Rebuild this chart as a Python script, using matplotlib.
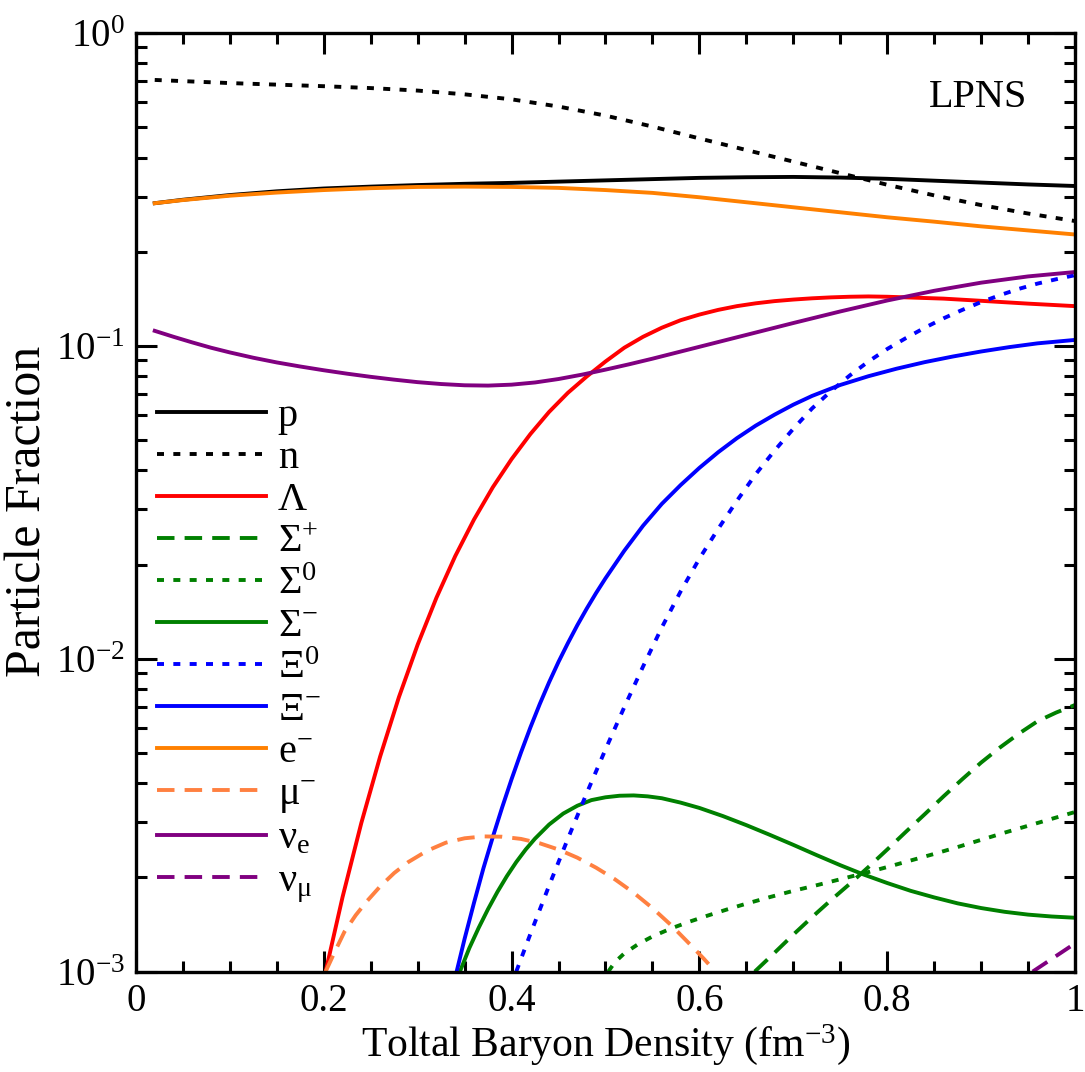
import numpy as np
import matplotlib
matplotlib.use("Agg")
import matplotlib.pyplot as plt
from matplotlib.ticker import MultipleLocator, FuncFormatter, LogLocator, NullFormatter

plt.rcParams['font.family'] = ['Liberation Serif', 'DejaVu Serif']
plt.rcParams['mathtext.fontset'] = 'custom'
plt.rcParams['mathtext.rm'] = 'Liberation Serif'
plt.rcParams['mathtext.it'] = 'Liberation Serif:italic'
plt.rcParams['mathtext.bf'] = 'Liberation Serif:bold'

# particle fractions vs total baryon density (fm^-3), stored as log10(fraction)
p_x = [0.02, 0.05, 0.10, 0.15, 0.20, 0.25, 0.30, 0.35, 0.40, 0.45, 0.50, 0.55, 0.60, 0.65, 0.70,
       0.75, 0.80, 0.85, 0.90, 0.95, 1.0]
p_lg = [-0.544, -0.533, -0.518, -0.506, -0.497, -0.491, -0.486, -0.482, -0.479, -0.475, -0.471, -0.467,
        -0.463, -0.461, -0.460, -0.462, -0.466, -0.472, -0.478, -0.484, -0.489]

n_x = [0.02, 0.06, 0.10, 0.15, 0.20, 0.25, 0.30, 0.35, 0.40, 0.45, 0.50, 0.55, 0.60, 0.65, 0.70,
       0.75, 0.80, 0.85, 0.90, 0.95, 1.0]
n_lg = [-0.150, -0.155, -0.160, -0.165, -0.170, -0.176, -0.184, -0.196, -0.212, -0.235, -0.264, -0.299,
        -0.337, -0.374, -0.411, -0.448, -0.485, -0.519, -0.550, -0.577, -0.601]

lam_x = [0.202, 0.22, 0.24, 0.26, 0.28, 0.30, 0.32, 0.34, 0.36, 0.38, 0.40, 0.42, 0.44, 0.46, 0.48,
         0.50, 0.52, 0.54, 0.56, 0.58, 0.60, 0.62, 0.64, 0.66, 0.68, 0.70, 0.72, 0.74, 0.76, 0.78,
         0.80, 0.82, 0.86, 0.90, 0.95, 1.0]
lam_lg = [-3.0, -2.762, -2.525, -2.313, -2.123, -1.955, -1.805, -1.672, -1.555, -1.452, -1.362, -1.282,
          -1.211, -1.15, -1.098, -1.05, -1.006, -0.971, -0.942, -0.918, -0.90, -0.885, -0.873, -0.864,
          -0.857, -0.852, -0.848, -0.845, -0.843, -0.842, -0.843, -0.845, -0.849, -0.856, -0.865, -0.873]

sp_x = [0.659, 0.68, 0.70, 0.72, 0.74, 0.76, 0.78, 0.80, 0.82, 0.84, 0.86, 0.88, 0.90, 0.92, 0.94,
        0.96, 0.98, 1.0]
sp_lg = [-3.0, -2.94, -2.882, -2.826, -2.772, -2.72, -2.666, -2.61, -2.553, -2.497, -2.44, -2.385,
         -2.332, -2.284, -2.24, -2.20, -2.172, -2.148]

s0_x = [0.503, 0.51, 0.52, 0.535, 0.55, 0.57, 0.59, 0.61, 0.63, 0.65, 0.675, 0.70, 0.725, 0.75, 0.775,
        0.80, 0.825, 0.85, 0.875, 0.90, 0.925, 0.95, 0.975, 1.0]
s0_lg = [-3.0, -2.97, -2.942, -2.912, -2.888, -2.862, -2.84, -2.82, -2.801, -2.783, -2.762, -2.742,
         -2.724, -2.705, -2.686, -2.666, -2.645, -2.624, -2.602, -2.579, -2.556, -2.534, -2.512, -2.49]

sm_x = [0.345, 0.355, 0.365, 0.375, 0.385, 0.395, 0.405, 0.415, 0.425, 0.44, 0.455, 0.47, 0.485, 0.50,
        0.515, 0.53, 0.545, 0.56, 0.58, 0.60, 0.625, 0.65, 0.675, 0.70, 0.725, 0.75, 0.775, 0.80, 0.825,
        0.85, 0.875, 0.90, 0.925, 0.95, 0.975, 1.0]
sm_lg = [-3.0, -2.925, -2.86, -2.80, -2.745, -2.695, -2.65, -2.61, -2.575, -2.53, -2.495, -2.47, -2.452,
         -2.443, -2.438, -2.437, -2.44, -2.446, -2.46, -2.477, -2.503, -2.532, -2.563, -2.595, -2.628,
         -2.66, -2.69, -2.717, -2.742, -2.763, -2.782, -2.797, -2.809, -2.818, -2.824, -2.828]

x0_x = [0.405, 0.42, 0.44, 0.46, 0.48, 0.50, 0.52, 0.54, 0.56, 0.58, 0.60, 0.62, 0.64, 0.66, 0.68, 0.70,
        0.72, 0.74, 0.76, 0.78, 0.80, 0.82, 0.84, 0.86, 0.88, 0.90, 0.92, 0.94, 0.96, 0.98, 1.0]
x0_lg = [-3.0, -2.88, -2.725, -2.575, -2.43, -2.29, -2.155, -2.025, -1.90, -1.785, -1.68, -1.585, -1.495,
         -1.41, -1.335, -1.265, -1.20, -1.145, -1.095, -1.05, -1.01, -0.975, -0.942, -0.912, -0.885,
         -0.86, -0.838, -0.818, -0.801, -0.787, -0.774]

xm_x = [0.3415, 0.35, 0.36, 0.37, 0.38, 0.39, 0.40, 0.41, 0.42, 0.43, 0.44, 0.45, 0.46, 0.47, 0.48, 0.49,
        0.50, 0.52, 0.54, 0.56, 0.58, 0.60, 0.62, 0.64, 0.66, 0.68, 0.70, 0.72, 0.75, 0.78, 0.81, 0.84,
        0.87, 0.90, 0.93, 0.96, 1.0]
xm_lg = [-3.0, -2.895, -2.78, -2.67, -2.57, -2.475, -2.385, -2.30, -2.22, -2.145, -2.075, -2.01, -1.95,
         -1.893, -1.84, -1.79, -1.743, -1.655, -1.575, -1.505, -1.445, -1.39, -1.34, -1.295, -1.255,
         -1.22, -1.188, -1.16, -1.125, -1.097, -1.073, -1.052, -1.034, -1.018, -1.004, -0.992, -0.981]

e_x = [0.02, 0.05, 0.10, 0.15, 0.20, 0.25, 0.30, 0.35, 0.40, 0.45, 0.50, 0.55, 0.60, 0.65, 0.70,
       0.75, 0.80, 0.85, 0.90, 0.95, 1.0]
e_lg = [-0.544, -0.534, -0.52, -0.51, -0.502, -0.496, -0.492, -0.491, -0.492, -0.495, -0.502, -0.511,
        -0.525, -0.541, -0.557, -0.573, -0.589, -0.603, -0.618, -0.631, -0.644]

mu_x = [0.202, 0.212, 0.222, 0.234, 0.246, 0.26, 0.275, 0.29, 0.31, 0.33, 0.35, 0.37, 0.39, 0.41, 0.43,
        0.45, 0.47, 0.49, 0.51, 0.53, 0.55, 0.57, 0.59, 0.605, 0.617]
mu_lg = [-3.0, -2.935, -2.873, -2.82, -2.775, -2.728, -2.685, -2.65, -2.614, -2.588, -2.574, -2.568,
         -2.569, -2.576, -2.59, -2.61, -2.636, -2.668, -2.705, -2.748, -2.797, -2.852, -2.913, -2.96, -3.0]

nue_x = [0.02, 0.04, 0.06, 0.08, 0.10, 0.125, 0.15, 0.175, 0.20, 0.225, 0.25, 0.275, 0.30, 0.325, 0.35,
         0.375, 0.40, 0.425, 0.45, 0.475, 0.50, 0.525, 0.55, 0.575, 0.60, 0.65, 0.70, 0.75, 0.80, 0.85,
         0.90, 0.95, 1.0]
nue_lg = [-0.952, -0.971, -0.989, -1.006, -1.021, -1.038, -1.053, -1.066, -1.078, -1.089, -1.099, -1.108,
          -1.116, -1.122, -1.126, -1.127, -1.124, -1.117, -1.106, -1.092, -1.076, -1.059, -1.041, -1.022,
          -1.003, -0.965, -0.927, -0.89, -0.855, -0.824, -0.798, -0.778, -0.764]

num_x = [0.955, 0.98, 1.0]
num_lg = [-3.0, -2.95, -2.91]

dot = (1.8, 2.4)
dash = (4.5, 2.6)

series = [
    (p_x, p_lg, 'black', None, 'p'),
    (n_x, n_lg, 'black', dot, 'n'),
    (lam_x, lam_lg, '#ff0000', None, 'Λ'),
    (sp_x, sp_lg, '#008000', dash, 'Σ$^{+}$'),
    (s0_x, s0_lg, '#008000', dot, 'Σ$^{0}$'),
    (sm_x, sm_lg, '#008000', None, 'Σ$^{-}$'),
    (x0_x, x0_lg, '#0000ff', dot, 'Ξ$^{0}$'),
    (xm_x, xm_lg, '#0000ff', None, 'Ξ$^{-}$'),
    (e_x, e_lg, '#ff8000', None, 'e$^{-}$'),
    (mu_x, mu_lg, '#ff8040', dash, 'μ$^{-}$'),
    (nue_x, nue_lg, '#800080', None, 'ν$_{\\mathrm{e}}$'),
    (num_x, num_lg, '#800080', dash, 'ν$_{\\mathrm{μ}}$'),
]

fig = plt.figure(figsize=(10.85, 10.72), dpi=100)
ax = fig.add_axes([0.1253, 0.0937, 0.8655, 0.8755])

for xs, lg, c, ds, lab in series:
    ys = np.power(10.0, lg)
    if ds is None:
        ax.plot(xs, ys, color=c, lw=2.8, label=lab)
    else:
        ax.plot(xs, ys, color=c, lw=2.8, dashes=ds, label=lab)

ax.set_yscale('log')
ax.set_xlim(0, 1)
ax.set_ylim(1e-3, 1)

ax.xaxis.set_major_locator(MultipleLocator(0.2))
ax.xaxis.set_minor_locator(MultipleLocator(0.05))
ax.xaxis.set_major_formatter(FuncFormatter(lambda v, p: '%g' % round(v, 2)))
ax.yaxis.set_major_locator(LogLocator(base=10, numticks=10))
ax.yaxis.set_minor_locator(LogLocator(base=10, subs=np.arange(2, 10), numticks=20))
ax.yaxis.set_minor_formatter(NullFormatter())

ax.tick_params(which='both', direction='in', top=True, right=True, width=2.2, labelsize=28)
ax.tick_params(which='major', length=15, pad=8)
ax.tick_params(which='minor', length=8)
for s in ax.spines.values():
    s.set_linewidth(2.4)

ax.set_xlabel('Toltal Baryon Density (fm$^{-3}$)', fontsize=30, labelpad=2)
ax.set_ylabel('Particle Fraction', fontsize=36)
ax.yaxis.set_label_coords(-0.09, 0.49)

ax.text(0.897, 0.931, 'LPNS', transform=ax.transAxes, fontsize=29, ha='center', va='center')

ax.legend(loc='upper left', bbox_to_anchor=(0.0224, 0.611), frameon=False, fontsize=29,
          handlelength=2.7, handletextpad=0.3, labelspacing=0.12, borderpad=0, borderaxespad=0)

fig.savefig('out.png', dpi=100)
